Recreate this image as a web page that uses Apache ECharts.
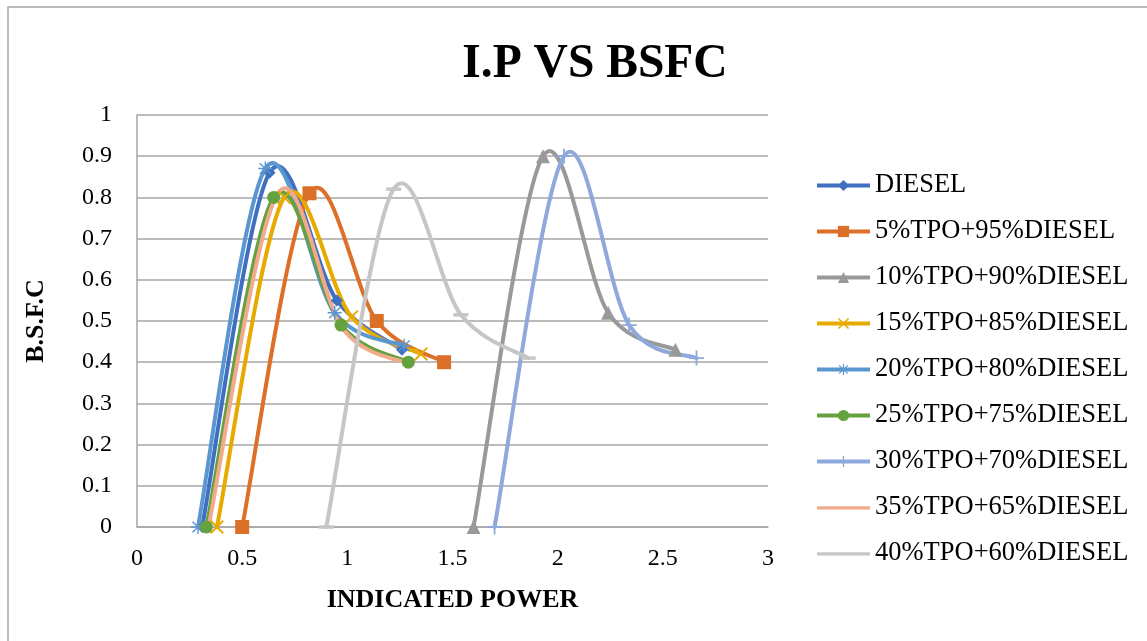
<!DOCTYPE html>
<html>
<head>
<meta charset="utf-8">
<script src="https://cdn.jsdelivr.net/npm/echarts@6/dist/echarts.min.js"></script>
<style>html,body{margin:0;padding:0;background:#fff}#c{width:1147px;height:641px}</style>
</head>
<body>
<div id="c"></div>
<script>
const seriesNames = ['DIESEL','5%TPO+95%DIESEL','10%TPO+90%DIESEL','15%TPO+85%DIESEL','20%TPO+80%DIESEL','25%TPO+75%DIESEL','30%TPO+70%DIESEL','35%TPO+65%DIESEL','40%TPO+60%DIESEL'];
const diesel   = [[0.31,0],[0.63,0.86],[0.95,0.55],[1.26,0.43]];
const tpo5     = [[0.50,0],[0.82,0.81],[1.14,0.50],[1.46,0.40]];
const tpo10    = [[1.60,0],[1.93,0.90],[2.24,0.52],[2.56,0.43]];
const tpo15    = [[0.38,0],[0.70,0.80],[1.02,0.51],[1.35,0.42]];
const tpo20    = [[0.29,0],[0.61,0.87],[0.94,0.52],[1.27,0.44]];
const tpo25    = [[0.33,0],[0.65,0.80],[0.97,0.49],[1.29,0.40]];
const tpo30    = [[1.70,0],[2.03,0.90],[2.34,0.49],[2.66,0.41]];
const tpo35    = [[0.34,0],[0.67,0.81],[0.98,0.48],[1.30,0.395]];
const tpo40    = [[0.90,0],[1.22,0.82],[1.54,0.515],[1.86,0.41]];
const xTicks = [0,0.5,1,1.5,2,2.5,3];
const yTicks = [0,0.1,0.2,0.3,0.4,0.5,0.6,0.7,0.8,0.9,1];

const allData = [diesel,tpo5,tpo10,tpo15,tpo20,tpo25,tpo30,tpo35,tpo40];
const colors = ['#3F6FC0','#DD7029','#999999','#E6AA00','#5A96D0','#65A13F','#8FA9DC','#F2AA8C','#C6C6C6'];
const X = 'path://M0,1 L1,0 L5,4 L9,0 L10,1 L6,5 L10,9 L9,10 L5,6 L1,10 L0,9 L4,5 Z';
const PLUS = 'path://M4.4,0 H5.6 V4.4 H10 V5.6 H5.6 V10 H4.4 V5.6 H0 V4.4 H4.4 Z';
const STAR = 'path://M4.5,0 H5.5 V3.8 L8.6,0.9 L9.3,1.6 L6.2,4.5 H10 V5.5 H6.2 L9.3,8.4 L8.6,9.1 L5.5,6.2 V10 H4.5 V6.2 L1.4,9.1 L0.7,8.4 L3.8,5.5 H0 V4.5 H3.8 L0.7,1.6 L1.4,0.9 L4.5,3.8 Z';
const LINEICON = 'path://M0,0 M0,5.6 L54,5.6 L54,9 L0,9 Z M54,14';
const symbols = ['diamond','rect','triangle',X,STAR,'circle',PLUS,'none','rect'];
const sizes = [12,14,14,14,14,13,15,0,[15,3.5]];
const LW = 4;

// Excel-like smoothed curve (Catmull-Rom -> cubic Bezier) through the data points, positioned via api.coord
function curveRenderer(idx){
  return function(params, api){
    if (params.dataIndex !== 0) return null;
    const pts = allData[idx].map(p => api.coord(p));
    const n = pts.length, k = 1/6;
    const children = [];
    for (let i=0;i<n-1;i++){
      const p0 = pts[Math.max(i-1,0)], p1 = pts[i], p2 = pts[i+1], p3 = pts[Math.min(i+2,n-1)];
      children.push({type:'bezierCurve',
        shape:{x1:p1[0],y1:p1[1],x2:p2[0],y2:p2[1],
          cpx1:p1[0]+(p2[0]-p0[0])*k, cpy1:p1[1]+(p2[1]-p0[1])*k,
          cpx2:p2[0]-(p3[0]-p1[0])*k, cpy2:p2[1]-(p3[1]-p1[1])*k},
        style:{stroke:colors[idx],lineWidth:LW,fill:null,lineCap:'round',lineJoin:'round'}});
    }
    return {type:'group',children};
  };
}

const series = [];
seriesNames.forEach((n,i)=>{
  series.push({name:'_curve'+i,type:'custom',data:allData[i],renderItem:curveRenderer(i),z:2,silent:true});
  series.push({name:n,type:'line',data:allData[i],
    symbol:symbols[i],symbolSize:sizes[i],showSymbol:symbols[i]!=='none',
    lineStyle:{width:0,color:colors[i]},
    itemStyle:{color:colors[i],borderWidth:0},z:2});
});

const chart = echarts.init(document.getElementById('c'));
const serif = '"Liberation Serif","Times New Roman",serif';
chart.setOption({
  animation:false,
  backgroundColor:'#fff',
  title:{text:'I.P VS BSFC',left:590,top:36,textAlign:'center',
    textStyle:{fontFamily:serif,fontWeight:'bold',fontSize:47.5,color:'#000'}},
  graphic:[{type:'rect',shape:{x:8,y:7,width:1200,height:700},style:{fill:'none',stroke:'#A6A6A6',lineWidth:1.5},silent:true}],
  legend:{orient:'vertical',left:815,top:172,padding:0,itemGap:19,itemWidth:53,itemHeight:14,
    lineStyle:{width:LW},
    data:seriesNames.map((n,i)=> i>=7 ? {name:n,icon:LINEICON} : n),
    textStyle:{fontFamily:serif,fontSize:26.5,color:'#000',padding:[0,0,0,0]}},
  grid:{left:137,right:379,top:115,bottom:114},
  xAxis:{type:'value',min:0,max:3,interval:0.5,
    name:'INDICATED POWER',nameLocation:'middle',nameGap:60,
    nameTextStyle:{fontFamily:serif,fontWeight:'bold',fontSize:26,color:'#000'},
    axisLine:{show:true,lineStyle:{color:'#A6A6A6',width:1.5}},axisTick:{show:false},
    splitLine:{show:false},
    axisLabel:{fontFamily:serif,fontSize:24,color:'#000',margin:20,formatter:v=>String(v)}},
  yAxis:{type:'value',min:0,max:1,interval:0.1,
    name:'B.S.F.C',nameLocation:'middle',nameGap:88,
    nameTextStyle:{fontFamily:serif,fontWeight:'bold',fontSize:26,color:'#000'},
    axisLine:{show:true,lineStyle:{color:'#A6A6A6',width:1.5}},axisTick:{show:false},
    splitLine:{show:true,lineStyle:{color:'#A6A6A6',width:1.5}},
    axisLabel:{fontFamily:serif,fontSize:24,color:'#000',margin:25,formatter:v=>String(Math.round(v*10)/10)}},
  series
});
</script>
</body>
</html>
